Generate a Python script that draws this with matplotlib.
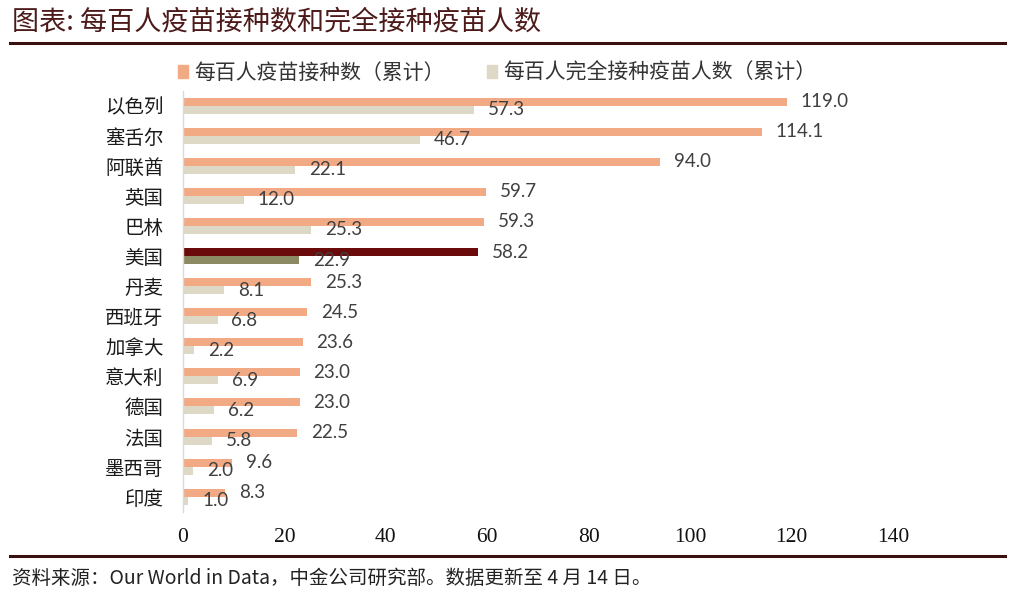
"""
Vaccination per 100 people vs. fully vaccinated per 100 people, by country.
Horizontal paired bar chart, saved to out.png.
"""

import matplotlib

matplotlib.use("Agg")

import matplotlib.pyplot as plt
from matplotlib.lines import Line2D
from matplotlib.patches import Patch

# ---------------------------------------------------------------------------
# Data
# ---------------------------------------------------------------------------

countries = [
    "以色列", "塞舌尔", "阿联酋", "英国", "巴林", "美国", "丹麦",
    "西班牙", "加拿大", "意大利", "德国", "法国", "墨西哥", "印度",
]
doses_per_100 = [119.0, 114.1, 94.0, 59.7, 59.3, 58.2, 25.3,
                 24.5, 23.6, 23.0, 23.0, 22.5, 9.6, 8.3]
fully_per_100 = [57.3, 46.7, 22.1, 12.0, 25.3, 22.9, 8.1,
                 6.8, 2.2, 6.9, 6.2, 5.8, 2.0, 1.0]
x_ticks = [0, 20, 40, 60, 80, 100, 120, 140]

series_names = ["每百人疫苗接种数（累计）", "每百人完全接种疫苗人数（累计）"]
title_text = "图表: 每百人疫苗接种数和完全接种疫苗人数"
source_text = "资料来源：Our World in Data，中金公司研究部。数据更新至 4 月 14 日。"
highlight = "美国"

# ---------------------------------------------------------------------------
# Style
# ---------------------------------------------------------------------------

ORANGE = "#F2AA84"
BEIGE = "#DDD9C6"
HL_ORANGE = "#6B0A0A"
HL_BEIGE = "#8C8A62"
RULE_COLOR = "#3A0F0F"
TITLE_COLOR = "#4D1A1A"
VALUE_COLOR = "#404040"

CJK = ["Noto Sans CJK SC", "DejaVu Sans"]
plt.rcParams["font.family"] = CJK

BAR_H = 0.266

fig = plt.figure(figsize=(10.14, 5.98), dpi=100)
ax = fig.add_axes([0.1805, 0.1442, 0.7002, 0.7043])

rows = list(range(len(countries)))
c_top = [HL_ORANGE if c == highlight else ORANGE for c in countries]
c_bot = [HL_BEIGE if c == highlight else BEIGE for c in countries]

ax.barh([r - BAR_H / 2 for r in rows], doses_per_100, height=BAR_H, color=c_top)
ax.barh([r + BAR_H / 2 for r in rows], fully_per_100, height=BAR_H, color=c_bot)

# value labels just past the bar ends
for r, v in zip(rows, doses_per_100):
    ax.annotate(f"{v:.1f}", xy=(v, r - BAR_H / 2), xytext=(10, 0),
                textcoords="offset points", ha="left", va="center",
                fontfamily="Lato", fontsize=13.5, color=VALUE_COLOR)
for r, v in zip(rows, fully_per_100):
    ax.annotate(f"{v:.1f}", xy=(v, r + BAR_H / 2), xytext=(10, 0),
                textcoords="offset points", ha="left", va="center",
                fontfamily="Lato", fontsize=13.5, color=VALUE_COLOR)

ax.set_xlim(0, 140)
ax.set_ylim(len(countries) - 0.5, -0.5)
ax.set_yticks(rows)
ax.set_yticklabels(countries, fontsize=14, color="#1A1A1A")
ax.set_xticks(x_ticks)
ax.set_xticklabels([str(t) for t in x_ticks], fontfamily="Liberation Serif",
                   fontsize=15.5, color="#111111")
ax.tick_params(axis="y", length=0, pad=14)
ax.tick_params(axis="x", length=0, pad=12)

for side in ("top", "right", "bottom"):
    ax.spines[side].set_visible(False)
ax.spines["left"].set_color("#D9D9D9")
ax.spines["left"].set_linewidth(1.0)

# legend across the top
handles = [Patch(color=ORANGE), Patch(color=BEIGE)]
fig.legend(handles, series_names, loc="center left",
           bbox_to_anchor=(178 / 1014, 1 - 73 / 598), ncol=2, frameon=False,
           borderpad=0, borderaxespad=0, handlelength=0.5, handleheight=0.55,
           handletextpad=0.3, columnspacing=2.0, fontsize=15,
           labelcolor="#333333")

# title, rules and source note
fig.text(12 / 1014, 1 - 22 / 598, title_text, fontsize=19.5, color=TITLE_COLOR,
         ha="left", va="center")
fig.add_artist(Line2D([10 / 1014, 1005 / 1014], [1 - 43 / 598] * 2,
                      color=RULE_COLOR, lw=2.2))
fig.add_artist(Line2D([10 / 1014, 1005 / 1014], [1 - 556 / 598] * 2,
                      color=RULE_COLOR, lw=2.2))
fig.text(12 / 1014, 1 - 578 / 598, source_text, fontsize=14,
         color="#222222", ha="left", va="center")

fig.savefig("out.png", dpi=100)
